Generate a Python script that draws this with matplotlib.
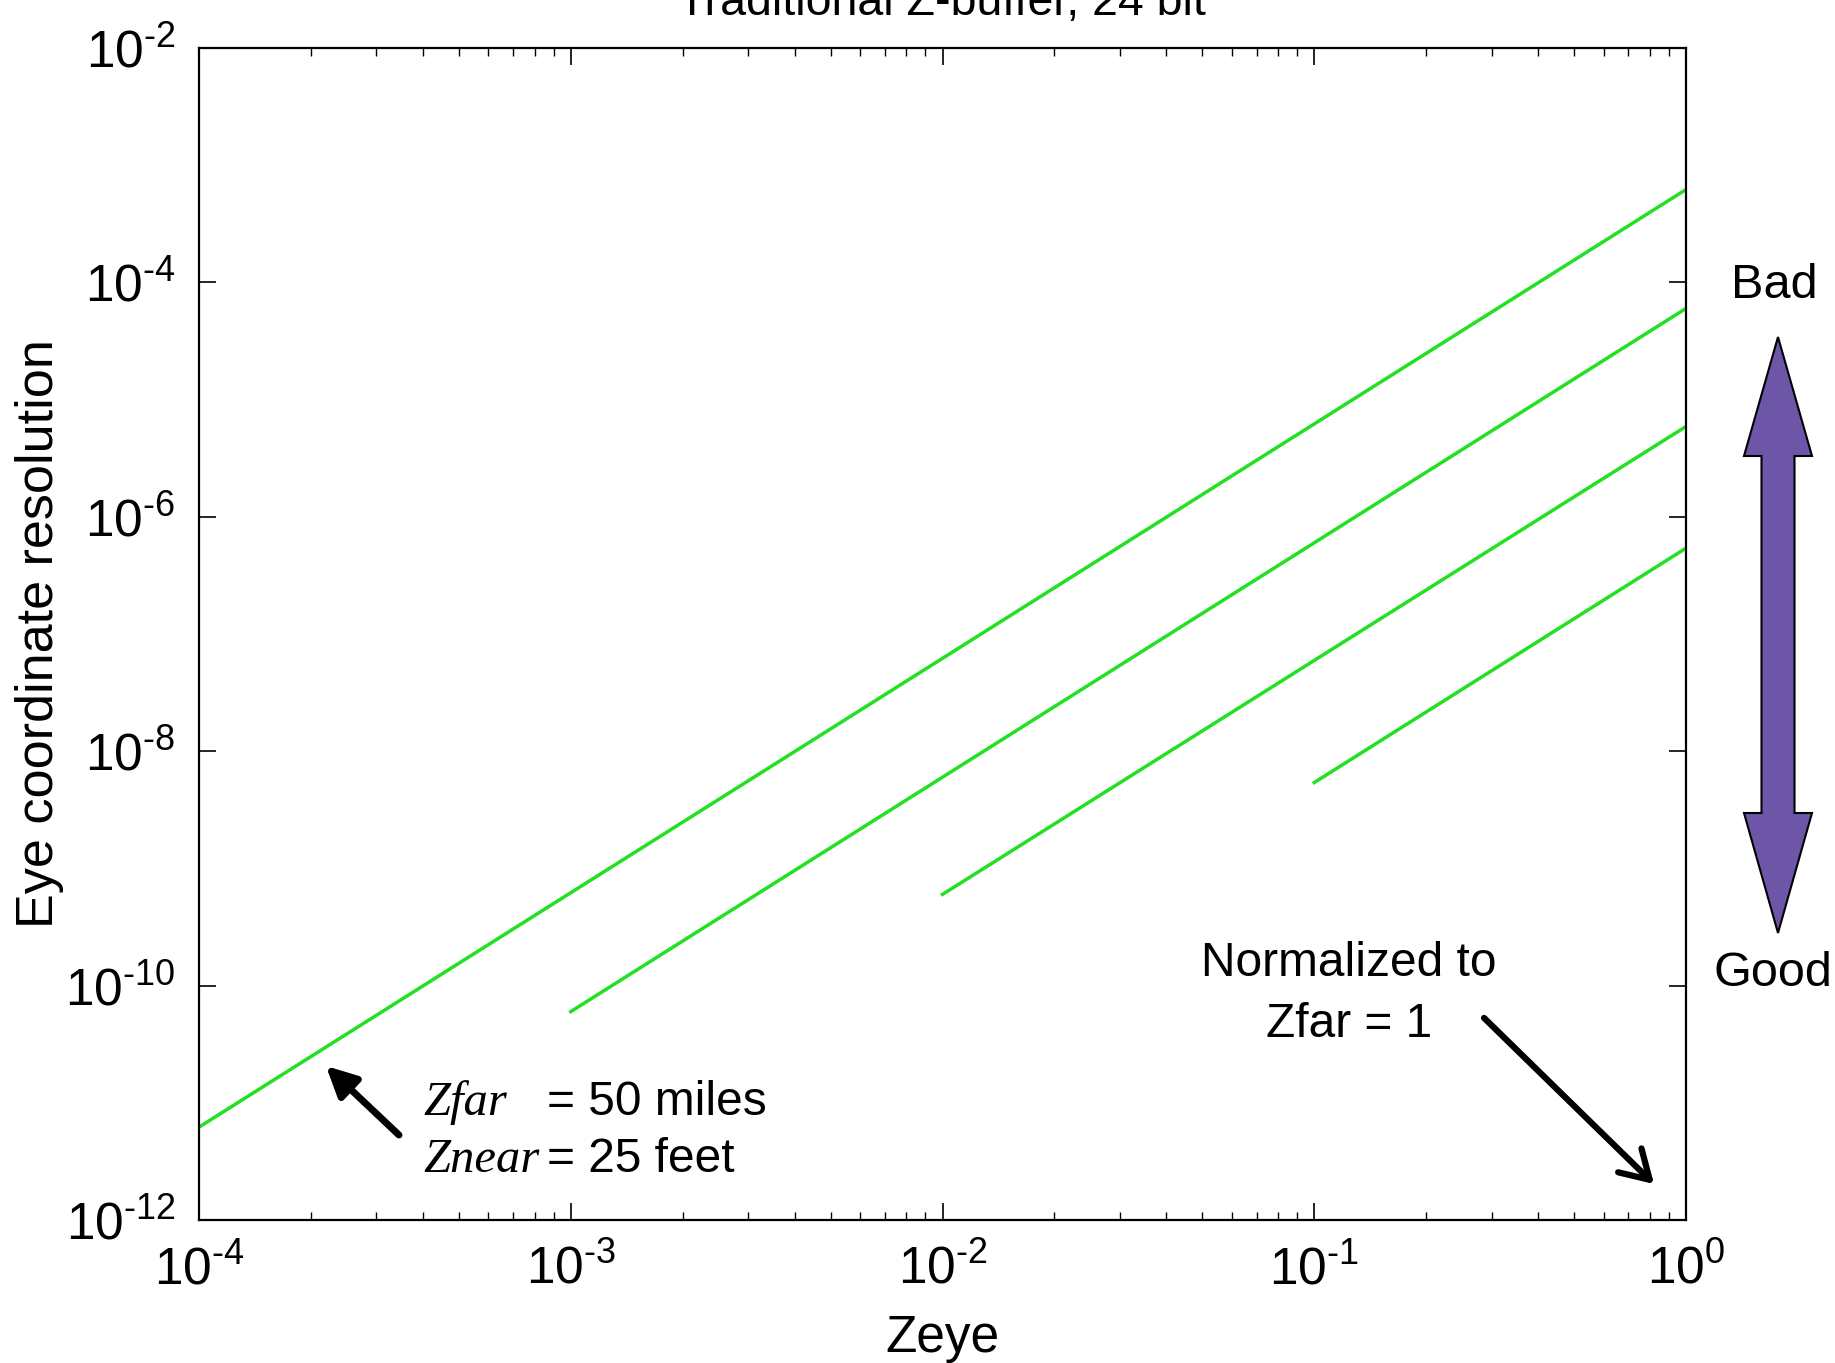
import matplotlib
matplotlib.use("Agg")
import numpy as np
import matplotlib.pyplot as plt
from matplotlib.patches import Polygon
from matplotlib.ticker import LogLocator, NullLocator, FuncFormatter

plt.rcParams['font.family'] = ['Liberation Sans', 'DejaVu Sans']
plt.rcParams['mathtext.fontset'] = 'custom'
plt.rcParams['mathtext.rm'] = 'Liberation Sans'
plt.rcParams['mathtext.default'] = 'regular'
plt.rcParams['axes.unicode_minus'] = False

# one line per near-plane distance, straight on log-log axes -> two end points each
z_start = [1e-4, 1e-3, 1e-2, 1e-1]
z_end = [1.0, 1.0, 1.0, 1.0]
res_start = [6.2e-12, 6.0e-11, 6.0e-10, 5.4e-9]
res_end = [6.2e-4, 6.0e-5, 5.9e-6, 5.4e-7]

xticks = [1e-4, 1e-3, 1e-2, 1e-1, 1e0]
yticks = [1e-12, 1e-10, 1e-8, 1e-6, 1e-4, 1e-2]


def pow_label(v, pos):
    e = int(round(np.log10(v)))
    if e < 0:
        return "$10^{\u2010%d}$" % (-e)
    return "$10^{%d}$" % e


W, H = 1835, 1363
fig = plt.figure(figsize=(W / 100, H / 100), dpi=100)
ax = fig.add_axes([199 / W, 1 - 1220 / H, 1487 / W, 1172 / H])

for x0, x1, y0, y1 in zip(z_start, z_end, res_start, res_end):
    ax.plot([x0, x1], [y0, y1], color="#22e022", lw=2.5)

ax.set_xscale("log")
ax.set_yscale("log")
ax.set_xlim(1e-4, 1)
ax.set_ylim(1e-12, 1e-2)
ax.set_xticks(xticks)
ax.xaxis.set_minor_locator(LogLocator(base=10, subs=range(2, 10), numticks=20))
ax.set_yticks(yticks)
ax.yaxis.set_minor_locator(NullLocator())
ax.xaxis.set_major_formatter(FuncFormatter(pow_label))
ax.yaxis.set_major_formatter(FuncFormatter(pow_label))
ax.tick_params(which="both", direction="in", top=True, right=True, labelsize=37)
ax.tick_params(which="major", length=12, width=1.2)
ax.tick_params(which="minor", length=6, width=1.0)
ax.tick_params(axis="x", pad=18)
ax.tick_params(axis="y", pad=17)
for s in ax.spines.values():
    s.set_linewidth(1.6)

ax.set_xlabel("Zeye", fontsize=37, va="center")
ax.xaxis.set_label_coords(0.5, -0.101)
ax.set_ylabel("Eye coordinate resolution", fontsize=37.5, va="center")
ax.yaxis.set_label_coords(-0.107, 0.5)

fig.text(942 / W, 1 - 15 / H, "Traditional Z-buffer, 24 bit", fontsize=33.5,
         ha="center", va="baseline")

# annotation arrows
ax.annotate("", xy=(0.0854, 0.1314), xytext=(0.1345, 0.0725), xycoords="axes fraction",
            arrowprops=dict(arrowstyle="-|>", lw=5, color="k", mutation_scale=45,
                            shrinkA=0, shrinkB=0))
ax.annotate("", xy=(0.9785, 0.0307), xytext=(0.8642, 0.1724), xycoords="axes fraction",
            arrowprops=dict(arrowstyle="->, head_length=0.5, head_width=0.3", lw=4.5,
                            color="k", mutation_scale=40, shrinkA=0, shrinkB=0))

fig.text(423 / W, 1 - 1115 / H, "Zfar", fontsize=35, family="Liberation Serif",
         style="italic", ha="left", va="baseline")
fig.text(547 / W, 1 - 1115 / H, "= 50 miles", fontsize=34.5, ha="left", va="baseline")
fig.text(423 / W, 1 - 1172 / H, "Znear", fontsize=35, family="Liberation Serif",
         style="italic", ha="left", va="baseline")
fig.text(547 / W, 1 - 1172 / H, "= 25 feet", fontsize=34.5, ha="left", va="baseline")

fig.text(1349 / W, 1 - 994 / H, "Normalized to\nZfar = 1", fontsize=34.5,
         ha="center", va="center", multialignment="center", linespacing=1.45)

fig.text(1774 / W, 1 - 286 / H, "Bad", fontsize=35, ha="center", va="center")
fig.text(1773 / W, 1 - 973 / H, "Good", fontsize=35, ha="center", va="center")

# purple double-headed arrow (pixel outline)
cx, sw, hw = 1778, 16.5, 34
top, top_b, bot_b, bot = 337, 456, 813, 933
pts = [(cx, top), (cx + hw, top_b), (cx + sw, top_b), (cx + sw, bot_b), (cx + hw, bot_b),
       (cx, bot), (cx - hw, bot_b), (cx - sw, bot_b), (cx - sw, top_b), (cx - hw, top_b)]
pts = [(x / W, 1 - y / H) for x, y in pts]
fig.add_artist(Polygon(pts, closed=True, transform=fig.transFigure,
                       facecolor="#6d55a8", edgecolor="black", lw=1.5))

fig.savefig("out.png", dpi=100)
